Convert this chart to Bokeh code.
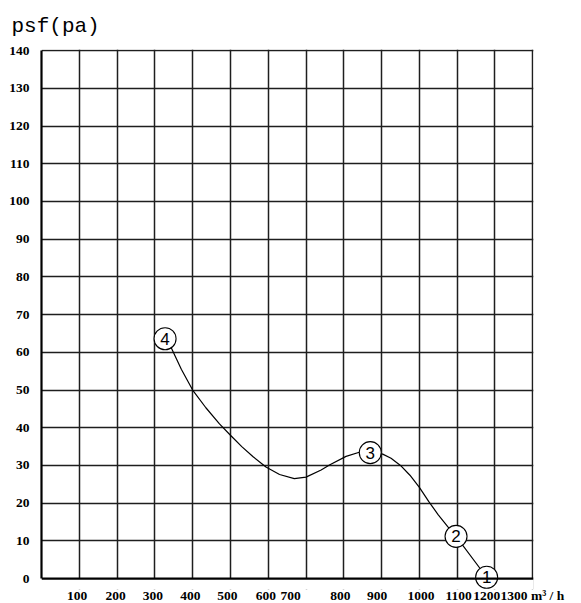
from bokeh.plotting import figure
from bokeh.models import Range1d, FixedTicker, Span, BoxAnnotation, AllLabels
from bokeh.core.properties import value
from bokeh.embed import file_html
from bokeh.resources import INLINE

# ---- data ----
flow = [327, 343, 370, 400, 435, 471, 500, 530, 560, 594, 630, 669, 700, 740, 762, 806, 841, 870,
        903, 925, 950, 975, 1000, 1025, 1050, 1075, 1097, 1178]
psf = [63.6, 61.3, 55.5, 50.0, 45.3, 41.0, 38.0, 35.0, 32.3, 29.6, 27.6, 26.5, 26.9, 28.8, 30.1, 32.4, 33.5, 33.6,
       33.0, 31.9, 30.0, 27.4, 24.2, 20.4, 16.9, 13.8, 11.2, 0.35]

mark_flow = [1178, 1097, 870, 327]
mark_psf = [0.35, 11.2, 33.4, 63.6]
mark_labels = ["1", "2", "3", "4"]

x_ticks = [100, 200, 300, 400, 500, 600, 700, 800, 900, 1000, 1100, 1200, 1300]
x_tick_labels = ["100", "200", "300", "400", "500", "600", "700", "800", "900", "1000", "1100", "1200",
                 "1300 m³ / h"]
y_ticks = [0, 10, 20, 30, 40, 50, 60, 70, 80, 90, 100, 110, 120, 130, 140]
y_title = "psf(pa)"

# label placement nudges (layout only, in x-axis units)
x_label_nudge = [-6, -4, -5, -6, -8, -6, -41, -9, -12, 4, 4, -22, -1]

Y_MIN, Y_MAX = 0, 140
X_MIN, X_MAX = 0, 1300

p = figure(frame_width=492, frame_height=540,
           x_range=Range1d(X_MIN, X_MAX + 2), y_range=Range1d(-2.9, Y_MAX + 0.3),
           output_backend="svg", toolbar_location=None,
           min_border_left=0, min_border_right=46, min_border_top=0, min_border_bottom=10)

p.background_fill_color = "white"
p.border_fill_color = "white"
p.outline_line_color = None

# title
p.title.text = y_title
p.title.text_font = "Liberation Mono"
p.title.text_font_size = "21px"
p.title.text_font_style = "normal"
p.title.text_color = "black"
p.title.align = "left"
p.title.offset = -30
p.title.standoff = 24

# grid (includes the top and right border lines)
p.xgrid.ticker = FixedTicker(ticks=x_ticks)
p.ygrid.ticker = FixedTicker(ticks=y_ticks[1:])
for g in (p.xgrid, p.ygrid):
    g.grid_line_color = "#1e1e1e"
    g.grid_line_width = 1.5

# hide the grid below zero
p.add_layout(BoxAnnotation(top=Y_MIN, fill_color="white", fill_alpha=1.0,
                           line_color=None, level="underlay"))
# bottom border line at zero
p.add_layout(Span(location=Y_MIN, dimension="width", line_color="black", line_width=2.2))

# x axis
label_pos = [t + n for t, n in zip(x_ticks, x_label_nudge)]
p.xaxis.ticker = FixedTicker(ticks=label_pos)
p.xaxis.major_label_overrides = {pos: lab for pos, lab in zip(label_pos, x_tick_labels)}
p.xaxis.major_label_policy = AllLabels()
p.xaxis.axis_line_color = None
# y axis
p.yaxis.ticker = FixedTicker(ticks=y_ticks)
p.yaxis.bounds = (Y_MIN, Y_MAX)
p.yaxis.axis_line_color = "black"
p.yaxis.axis_line_width = 2.2
p.yaxis.axis_label = " "
p.yaxis.axis_label_text_font_size = "2px"
p.yaxis.axis_label_standoff = 1

for ax in (p.xaxis, p.yaxis):
    ax.major_tick_line_color = None
    ax.minor_tick_line_color = None
    ax.major_tick_out = 0
    ax.major_tick_in = 0
    ax.minor_tick_out = 0
    ax.major_label_text_font = "Liberation Serif"
    ax.major_label_text_font_style = "bold"
    ax.major_label_text_font_size = "13.5px"
    ax.major_label_text_color = "black"
p.xaxis.major_label_standoff = -2
p.yaxis.major_label_standoff = 12

# curve
p.line(flow, psf, line_color="black", line_width=1.2)

# numbered circles
p.scatter(mark_flow, mark_psf, marker="circle", size=22,
          fill_color="white", line_color="black", line_width=1.1)
p.text(mark_flow, mark_psf, text=mark_labels,
       text_font=value("Liberation Sans"), text_font_size="17px",
       text_align="center", text_baseline="middle", text_color="black")

open("out.html", "w").write(file_html(p, INLINE))
